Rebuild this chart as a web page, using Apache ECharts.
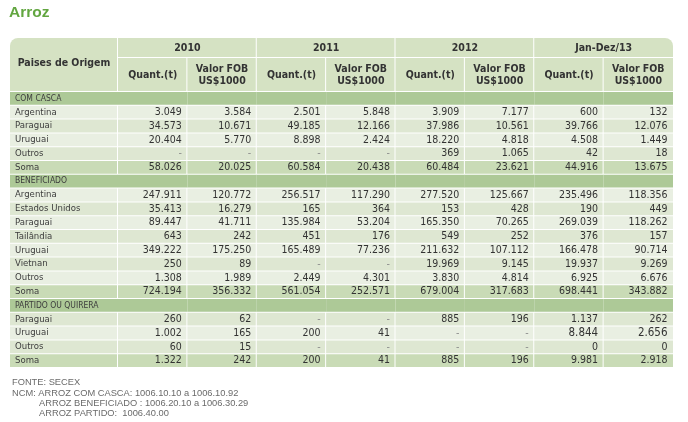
<!DOCTYPE html>
<html><head><meta charset="utf-8">
<script src="https://cdn.jsdelivr.net/npm/echarts@6/dist/echarts.min.js"></script>
<style>html,body{margin:0;padding:0;background:#fff}#c{width:688px;height:422px}</style>
</head><body><div id="c"></div>
<script>
// ---------- DATA ----------
const titleText = 'Arroz';
const firstHeader = 'Paises de Origem';
const years = ['2010', '2011', '2012', 'Jan-Dez/13'];
const subHeads = ['Quant.(t)', 'Valor FOB\nUS$1000'];

const sectionNames = ['COM CASCA', 'BENEFICIADO', 'PARTIDO OU QUIRERA'];

// columns: 2010 Q, 2010 V, 2011 Q, 2011 V, 2012 Q, 2012 V, Jan-Dez/13 Q, Jan-Dez/13 V (null = "-")
const comCascaCountries = ['Argentina', 'Paraguai', 'Uruguai', 'Outros', 'Soma'];
const comCascaValues = [
  [3049, 3584, 2501, 5848, 3909, 7177, 600, 132],
  [34573, 10671, 49185, 12166, 37986, 10561, 39766, 12076],
  [20404, 5770, 8898, 2424, 18220, 4818, 4508, 1449],
  [null, null, null, null, 369, 1065, 42, 18],
  [58026, 20025, 60584, 20438, 60484, 23621, 44916, 13675]
];

const beneficiadoCountries = ['Argentina', 'Estados Unidos', 'Paraguai', 'Tailândia', 'Uruguai', 'Vietnan', 'Outros', 'Soma'];
const beneficiadoValues = [
  [247911, 120772, 256517, 117290, 277520, 125667, 235496, 118356],
  [35413, 16279, 165, 364, 153, 428, 190, 449],
  [89447, 41711, 135984, 53204, 165350, 70265, 269039, 118262],
  [643, 242, 451, 176, 549, 252, 376, 157],
  [349222, 175250, 165489, 77236, 211632, 107112, 166478, 90714],
  [250, 89, null, null, 19969, 9145, 19937, 9269],
  [1308, 1989, 2449, 4301, 3830, 4814, 6925, 6676],
  [724194, 356332, 561054, 252571, 679004, 317683, 698441, 343882]
];

const partidoCountries = ['Paraguai', 'Uruguai', 'Outros', 'Soma'];
const partidoValues = [
  [260, 62, null, null, 885, 196, 1137, 262],
  [1002, 165, 200, 41, null, null, 8844, 2656],
  [60, 15, null, null, null, null, 0, 0],
  [1322, 242, 200, 41, 885, 196, 9981, 2918]
];

const footerLines = [
  'FONTE: SECEX',
  'NCM: ARROZ COM CASCA: 1006.10.10 a 1006.10.92',
  'ARROZ BENEFICIADO : 1006.20.10 a 1006.30.29',
  'ARROZ PARTIDO:  1006.40.00'
];

// ---------- STYLE ----------
const C = {
  header: '#d5e2c3', sec: '#adc997', light: '#e9efe2', dark: '#dee7d2', sum: '#c9dbb6',
  text: '#333333', label: '#3d3d3d', dash: '#8a8a8a', title: '#62a640', foot: '#6a6a6a'
};
const NARROW = "'Liberation Sans Narrow','Arial Narrow','DejaVu Sans Condensed',sans-serif";
const REG = "'Liberation Sans',Arial,sans-serif";
const bigCells = {'17-6': true, '17-7': true};

// ---------- BUILD ROWS ----------
const rows = [];
function addSection(name, countries, values, firstDark) {
  rows.push({label: name, kind: 'sec', vals: null});
  countries.forEach((c, i) => {
    let kind;
    if (c === 'Soma') kind = 'sum';
    else kind = ((i % 2 === 0) !== firstDark) ? 'light' : 'dark';
    rows.push({label: c, kind: kind, vals: values[i]});
  });
}
addSection(sectionNames[0], comCascaCountries, comCascaValues, false);
addSection(sectionNames[1], beneficiadoCountries, beneficiadoValues, false);
addSection(sectionNames[2], partidoCountries, partidoValues, true);

function fmt(v) {
  if (v === null || v === undefined) return '-';
  return String(v).replace(/\B(?=(\d{3})+(?!\d))/g, '.');
}
const rowCats = rows.map((r, i) => String(i));
const colCats = [];
years.forEach(y => subHeads.forEach(s => colCats.push(y + '|' + s)));

// data for series
const labelData = rows.map((r, i) => [0, i]);
const cellData = [];
rows.forEach((r, ri) => {
  for (let ci = 0; ci < 8; ci++) cellData.push([ci, ri]);
});
const yearData = years.map((y, i) => [i, 0]);
const subData = colCats.map((c, i) => [i, 0]);

function bgOf(kind) { return C[kind]; }

const GRID_TOP = 92, GRID_H = 276, LEFT = 10, LW = 108, DL = 118, DW = 555;
const footStyle = {fontFamily: REG, fontWeight: 'normal', fontSize: 9.3, color: C.foot};

const option = {
  animation: false,
  backgroundColor: '#ffffff',
  title: [
    {text: titleText, left: 9, top: 5, padding: 0,
      textStyle: {fontFamily: REG, fontWeight: 'bold', fontSize: 15.5, color: C.title}},
    {text: footerLines[0], left: 12, top: 378, padding: 0, textStyle: footStyle},
    {text: footerLines[1], left: 12, top: 389, padding: 0, textStyle: footStyle},
    {text: footerLines[2], left: 39, top: 399, padding: 0, textStyle: footStyle},
    {text: footerLines[3], left: 39, top: 409, padding: 0, textStyle: footStyle}
  ],
  grid: [
    {left: LEFT, top: GRID_TOP, width: LW, height: GRID_H},
    {left: DL, top: GRID_TOP, width: DW, height: GRID_H},
    {left: LEFT, top: 38, width: LW, height: 54},
    {left: DL, top: 38, width: DW, height: 20},
    {left: DL, top: 58, width: DW, height: 34}
  ],
  xAxis: [
    {type: 'category', gridIndex: 0, data: ['l'], show: false},
    {type: 'category', gridIndex: 1, data: colCats, show: false},
    {type: 'category', gridIndex: 2, data: ['h'], show: false},
    {type: 'category', gridIndex: 3, data: years, show: false},
    {type: 'category', gridIndex: 4, data: colCats, show: false}
  ],
  yAxis: [
    {type: 'category', gridIndex: 0, data: rowCats, inverse: true, show: false},
    {type: 'category', gridIndex: 1, data: rowCats, inverse: true, show: false},
    {type: 'category', gridIndex: 2, data: ['h'], show: false},
    {type: 'category', gridIndex: 3, data: ['y'], show: false},
    {type: 'category', gridIndex: 4, data: ['s'], show: false}
  ],
  series: [
    { // label column
      type: 'custom', xAxisIndex: 0, yAxisIndex: 0, data: labelData, silent: true,
      renderItem: function (params, api) {
        const ri = api.value(1);
        const r = rows[ri];
        const c = api.coord([api.value(0), ri]);
        const s = api.size([1, 1]);
        const isSec = r.kind === 'sec';
        const x0 = c[0] - s[0] / 2, y0 = c[1] - s[1] / 2;
        return {
          type: 'group', children: [
            {type: 'rect', shape: {x: x0, y: y0, width: isSec ? s[0] : s[0] - 1, height: s[1] - 1},
              style: {fill: bgOf(r.kind)}},
            {type: 'text', x: x0 + 5, y: c[1] - 0.5,
              style: {text: r.label, fill: C.label, font: (isSec ? '8.5px ' : '9.5px ') + NARROW,
                align: 'left', verticalAlign: 'middle'}}
          ]
        };
      }
    },
    { // data cells
      type: 'custom', xAxisIndex: 1, yAxisIndex: 1, data: cellData, silent: true,
      renderItem: function (params, api) {
        const ci = api.value(0), ri = api.value(1);
        const r = rows[ri];
        const c = api.coord([ci, ri]);
        const s = api.size([1, 1]);
        const x0 = c[0] - s[0] / 2, y0 = c[1] - s[1] / 2;
        const isSec = r.kind === 'sec';
        const children = [
          {type: 'rect', shape: {x: x0, y: y0, width: isSec || ci === 7 ? s[0] : s[0] - 1, height: s[1] - 1},
            style: {fill: bgOf(r.kind)}}
        ];
        if (!isSec) {
          const v = r.vals[ci];
          const big = bigCells[ri + '-' + ci];
          children.push({type: 'text', x: x0 + s[0] - 5.5, y: c[1] - 0.5,
            style: {text: fmt(v), fill: v === null ? C.dash : C.text,
              font: (big ? '11.5px ' : '10.5px ') + NARROW, align: 'right', verticalAlign: 'middle'}});
        }
        return {type: 'group', children: children};
      }
    },
    { // top-left header
      type: 'custom', xAxisIndex: 2, yAxisIndex: 2, data: [[0, 0]], silent: true,
      renderItem: function (params, api) {
        const c = api.coord([0, 0]);
        const s = api.size([1, 1]);
        const x0 = c[0] - s[0] / 2, y0 = c[1] - s[1] / 2;
        return {type: 'group', children: [
          {type: 'rect', shape: {x: x0, y: y0, width: s[0] - 1, height: s[1] - 1, r: [8, 0, 0, 0]},
            style: {fill: C.header}},
          {type: 'text', x: c[0], y: c[1] - 2,
            style: {text: firstHeader, fill: C.text, font: 'bold 10.5px ' + NARROW,
              align: 'center', verticalAlign: 'middle'}}
        ]};
      }
    },
    { // years
      type: 'custom', xAxisIndex: 3, yAxisIndex: 3, data: yearData, silent: true,
      renderItem: function (params, api) {
        const i = api.value(0);
        const c = api.coord([i, 0]);
        const s = api.size([1, 1]);
        const x0 = c[0] - s[0] / 2, y0 = c[1] - s[1] / 2;
        const last = i === years.length - 1;
        return {type: 'group', children: [
          {type: 'rect', shape: {x: x0, y: y0, width: last ? s[0] : s[0] - 1, height: s[1] - 1,
            r: last ? [0, 8, 0, 0] : 0}, style: {fill: C.header}},
          {type: 'text', x: c[0], y: c[1],
            style: {text: years[i], fill: C.text, font: 'bold 10.5px ' + NARROW,
              align: 'center', verticalAlign: 'middle'}}
        ]};
      }
    },
    { // sub headers
      type: 'custom', xAxisIndex: 4, yAxisIndex: 4, data: subData, silent: true,
      renderItem: function (params, api) {
        const i = api.value(0);
        const c = api.coord([i, 0]);
        const s = api.size([1, 1]);
        const x0 = c[0] - s[0] / 2, y0 = c[1] - s[1] / 2;
        const last = i === 7;
        return {type: 'group', children: [
          {type: 'rect', shape: {x: x0, y: y0, width: last ? s[0] : s[0] - 1, height: s[1] - 1},
            style: {fill: C.header}},
          {type: 'text', x: c[0], y: c[1],
            style: {text: subHeads[i % 2], fill: C.text, font: 'bold 10.5px ' + NARROW,
              align: 'center', verticalAlign: 'middle', lineHeight: 12}}
        ]};
      }
    }
  ]
};
const chart = echarts.init(document.getElementById('c'), null, {renderer: 'canvas'});
chart.setOption(option);
</script>
</body></html>
